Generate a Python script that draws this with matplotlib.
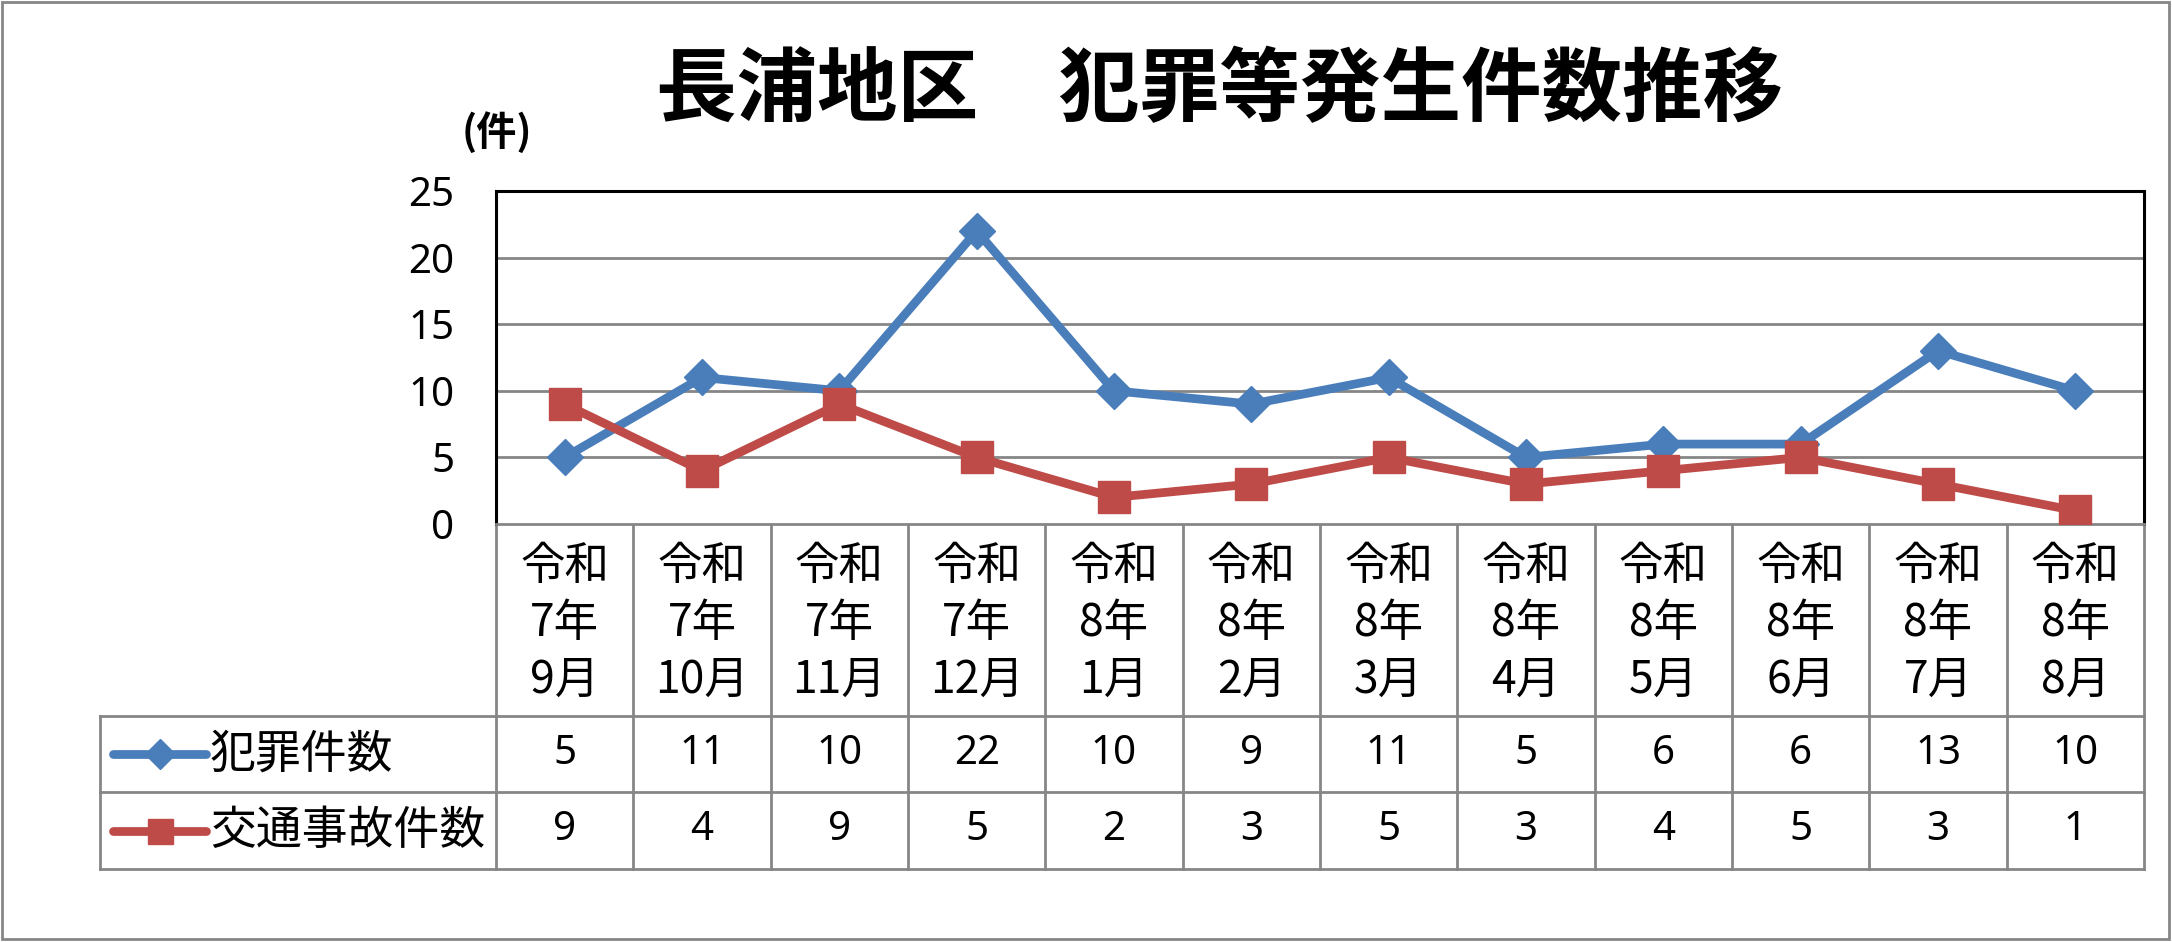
import matplotlib
matplotlib.use("Agg")
import matplotlib.pyplot as plt
import matplotlib.transforms as mtransforms
from matplotlib.patches import Rectangle

plt.rcParams['font.family'] = ['Noto Sans CJK JP', 'DejaVu Sans']

# data
months = ["令和\n7年\n9月", "令和\n7年\n10月", "令和\n7年\n11月", "令和\n7年\n12月",
          "令和\n8年\n1月", "令和\n8年\n2月", "令和\n8年\n3月", "令和\n8年\n4月",
          "令和\n8年\n5月", "令和\n8年\n6月", "令和\n8年\n7月", "令和\n8年\n8月"]
crime = [5, 11, 10, 22, 10, 9, 11, 5, 6, 6, 13, 10]
traffic = [9, 4, 9, 5, 2, 3, 5, 3, 4, 5, 3, 1]
series_names = ["犯罪件数", "交通事故件数"]
yticks = [0, 5, 10, 15, 20, 25]

blue = "#4A7EBB"
red = "#BE4B48"
grid_c = "#868686"

W, H = 2172, 942
fig = plt.figure(figsize=(W / 100, H / 100), dpi=100)

# plot area (pixels: x 496-2144, y 191-524)
ax = fig.add_axes([496 / W, 1 - 524 / H, (2144 - 496) / W, (524 - 191) / H])
x = list(range(len(months)))
ax.plot(x, crime, color=blue, lw=6.3, marker="D", ms=18.5, mfc=blue, mec=blue, zorder=3)
ax.plot(x, traffic, color=red, lw=6.3, marker="s", ms=22.5, mfc=red, mec=red, zorder=4)
ax.set_xlim(-0.5, len(months) - 0.5)
ax.set_ylim(0, 25)
ax.set_yticks(yticks)
ax.set_xticks([])
ax.tick_params(axis="y", length=0, pad=30, labelsize=29)
for t in yticks[1:-1]:
    ax.axhline(t, color=grid_c, lw=2, zorder=1)
for s in ["top", "left", "right"]:
    ax.spines[s].set_color("black")
    ax.spines[s].set_linewidth(2.2)
ax.spines["bottom"].set_color(grid_c)
ax.spines["bottom"].set_linewidth(2)
for lab in ax.get_yticklabels():
    lab.set_fontfamily(['Noto Sans', 'DejaVu Sans'])

# overlay in pixel coordinates for the data table
ov = fig.add_axes([0, 0, 1, 1], zorder=-1)
ov.set_xlim(0, W)
ov.set_ylim(H, 0)
ov.axis("off")
ov.patch.set_alpha(0)
tr = mtransforms.blended_transform_factory(ax.transData, ov.transData)

# outer border
ov.add_patch(Rectangle((2, 2), W - 5, H - 5, fill=False, ec=grid_c, lw=2))

top, r0, r1, r2 = 524, 716, 792, 869
n = len(months)
for i in range(n + 1):
    ov.plot([i - 0.5, i - 0.5], [top, r2], transform=tr, color=grid_c, lw=2, clip_on=False)
xr = n - 0.5
for yy in [r0, r1, r2]:
    ov.plot([100, 496], [yy, yy], color=grid_c, lw=2)
    ov.plot([-0.5, xr], [yy, yy], transform=tr, color=grid_c, lw=2, clip_on=False)
ov.plot([100, 100], [r0, r2], color=grid_c, lw=2)

for i, m in enumerate(months):
    ov.text(i, (top + r0) / 2 + 3, m, transform=tr, ha="center", va="center",
            fontsize=32, linespacing=1.3)
    ov.text(i, (r0 + r1) / 2, str(crime[i]), transform=tr, ha="center", va="center",
            fontsize=29, family=['Noto Sans', 'DejaVu Sans'])
    ov.text(i, (r1 + r2) / 2, str(traffic[i]), transform=tr, ha="center", va="center",
            fontsize=29, family=['Noto Sans', 'DejaVu Sans'])

# legend keys in first column
for (yy, c, mk, ms), name in zip([((r0 + r1) / 2, blue, "D", 15), ((r1 + r2) / 2, red, "s", 18)],
                                 series_names):
    ov.plot([113, 206], [yy, yy], color=c, lw=6.3, solid_capstyle="round")
    ov.plot([159.5], [yy], marker=mk, ms=ms, color=c)
    ov.text(210, yy, name, ha="left", va="center", fontsize=33)

fig.text(1219 / W, 1 - 92 / H, "長浦地区　犯罪等発生件数推移", ha="center", va="center",
         fontsize=58, fontweight="bold")
fig.text(497 / W, 1 - 133 / H, "(件)", ha="center", va="center", fontsize=29,
         fontweight="bold")

fig.savefig("out.png", dpi=100)
